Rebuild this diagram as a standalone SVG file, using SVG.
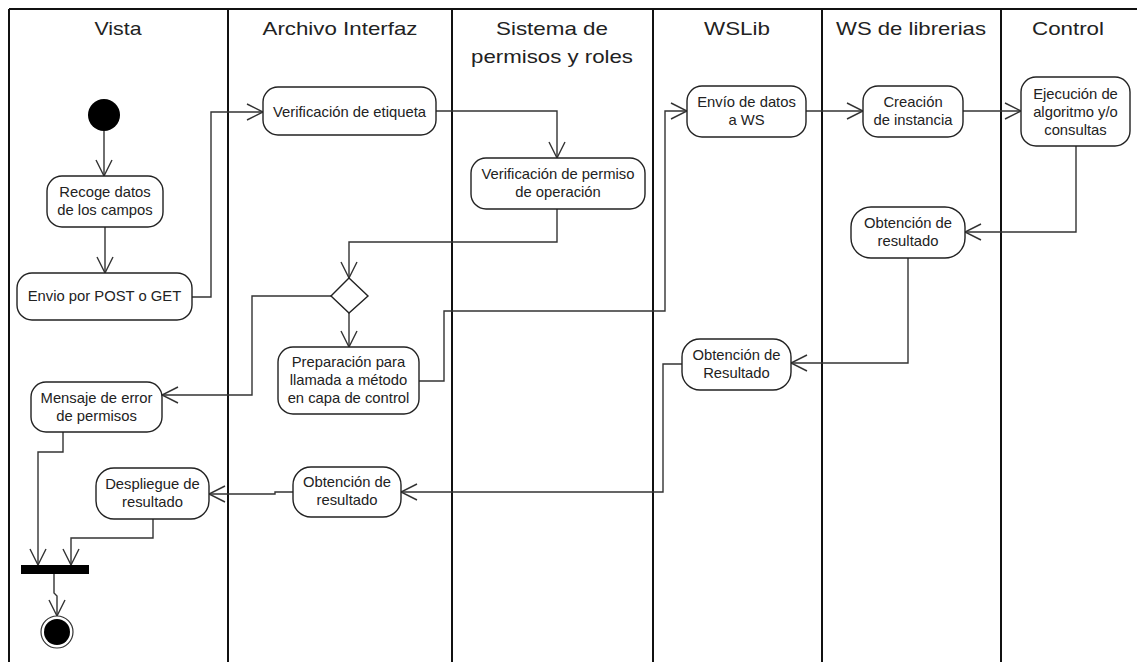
<svg xmlns="http://www.w3.org/2000/svg" width="1137" height="662" viewBox="0 0 1137 662">
  <style>
    .lane { stroke: #111; stroke-width: 2; fill: none; }
    .hdr { font-family: "Liberation Sans", Arial, sans-serif; font-size: 19px; fill: #222; text-anchor: middle; }
    .act { fill: #fff; stroke: #222; stroke-width: 1.4; }
    .lbl { font-family: "Liberation Sans", Arial, sans-serif; font-size: 14.8px; fill: #222; text-anchor: middle; }
    .flow { fill: none; stroke: #333; stroke-width: 1.4; marker-end: url(#open); }
    .plain { fill: none; stroke: #333; stroke-width: 1.4; }
  </style>
  <defs>
    <marker id="open" markerUnits="userSpaceOnUse" markerWidth="20" markerHeight="20" viewBox="-18 -10 20 20" refX="0" refY="0" orient="auto">
      <path d="M-16,-8 L0,0 L-16,8" fill="none" stroke="#333" stroke-width="1.4"/>
    </marker>
  </defs>

  <rect width="1137" height="662" fill="#fff"/>

  <!-- swimlanes -->
  <g id="lanes">
    <line class="lane" x1="9" y1="9" x2="1137" y2="9"/>
    <line class="lane" x1="9" y1="9" x2="9" y2="662"/>
    <line class="lane" x1="228" y1="9" x2="228" y2="662"/>
    <line class="lane" x1="452" y1="9" x2="452" y2="662"/>
    <line class="lane" x1="653" y1="9" x2="653" y2="662"/>
    <line class="lane" x1="822" y1="9" x2="822" y2="662"/>
    <line class="lane" x1="1001" y1="9" x2="1001" y2="662"/>
    <text class="hdr" x="118" y="35" textLength="47" lengthAdjust="spacingAndGlyphs">Vista</text>
    <text class="hdr" x="340" y="35" textLength="155" lengthAdjust="spacingAndGlyphs">Archivo Interfaz</text>
    <text class="hdr" x="552" y="35" textLength="112" lengthAdjust="spacingAndGlyphs">Sistema de</text>
    <text class="hdr" x="552" y="63" textLength="162" lengthAdjust="spacingAndGlyphs">permisos y roles</text>
    <text class="hdr" x="737" y="35" textLength="66" lengthAdjust="spacingAndGlyphs">WSLib</text>
    <text class="hdr" x="911" y="35" textLength="150" lengthAdjust="spacingAndGlyphs">WS de librerias</text>
    <text class="hdr" x="1068" y="35" textLength="72" lengthAdjust="spacingAndGlyphs">Control</text>
  </g>

  <!-- connectors -->
  <g id="connectors">
    <path class="flow" d="M104,131 L104,176"/>
    <path class="flow" d="M105,227 L105,273"/>
    <path class="flow" d="M192,297 L211,297 L211,112 L263,112"/>
    <path class="flow" d="M436,111 L557,111 L557,158"/>
    <path class="flow" d="M557,209 L557,242 L349,242 L349,278"/>
    <path class="flow" d="M331,296 L252,296 L252,395 L162,395"/>
    <path class="flow" d="M349,313 L349,347"/>
    <path class="flow" d="M419,381 L444,381 L444,311 L665,311 L665,111 L687,111"/>
    <path class="flow" d="M806,111 L863,111"/>
    <path class="flow" d="M963,111 L1021,111"/>
    <path class="flow" d="M1076,146 L1076,232 L965,232"/>
    <path class="flow" d="M908,258 L908,363 L791,363"/>
    <path class="flow" d="M682,364 L663,364 L663,492 L401,492"/>
    <path class="flow" d="M293,492 L275,492 L275,494 L209,494"/>
    <path class="flow" d="M63,432 L63,452 L38,452 L38,565"/>
    <path class="flow" d="M153,519 L153,538 L71,538 L71,565"/>
    <path class="flow" d="M54,574 L54,593 L57,596 L57,616"/>
  </g>

  <!-- initial node -->
  <g id="start">
    <circle cx="104" cy="115" r="16" fill="#000"/>
  </g>

  <g id="recoge">
    <rect class="act" x="47" y="176" width="116" height="51" rx="15"/>
    <text class="lbl" x="105" y="197">Recoge datos</text>
    <text class="lbl" x="105" y="215">de los campos</text>
  </g>

  <g id="envio-post">
    <rect class="act" x="17" y="273" width="175" height="47" rx="15"/>
    <text class="lbl" x="104.5" y="301">Envio por POST o GET</text>
  </g>

  <g id="verif-etiqueta">
    <rect class="act" x="263" y="87" width="173" height="48" rx="15"/>
    <text class="lbl" x="349.5" y="117">Verificación de etiqueta</text>
  </g>

  <g id="verif-permiso">
    <rect class="act" x="471" y="158" width="174" height="51" rx="15"/>
    <text class="lbl" x="558" y="179">Verificación de permiso</text>
    <text class="lbl" x="558" y="197">de operación</text>
  </g>

  <g id="decision">
    <polygon class="act" points="349,278 368,296 349,313 331,296"/>
  </g>

  <g id="preparacion">
    <rect class="act" x="278" y="347" width="141" height="67" rx="15"/>
    <text class="lbl" x="348.5" y="367">Preparación para</text>
    <text class="lbl" x="348.5" y="385">llamada a método</text>
    <text class="lbl" x="348.5" y="403">en capa de control</text>
  </g>

  <g id="mensaje-error">
    <rect class="act" x="31" y="382" width="131" height="50" rx="15"/>
    <text class="lbl" x="96.5" y="403">Mensaje de error</text>
    <text class="lbl" x="96.5" y="421">de permisos</text>
  </g>

  <g id="envio-ws">
    <rect class="act" x="687" y="86" width="119" height="51" rx="15"/>
    <text class="lbl" x="746.5" y="107">Envío de datos</text>
    <text class="lbl" x="746.5" y="125">a WS</text>
  </g>

  <g id="creacion">
    <rect class="act" x="863" y="86" width="100" height="51" rx="15"/>
    <text class="lbl" x="913" y="107">Creación</text>
    <text class="lbl" x="913" y="125">de instancia</text>
  </g>

  <g id="ejecucion">
    <rect class="act" x="1021" y="77" width="109" height="69" rx="15"/>
    <text class="lbl" x="1075.5" y="99">Ejecución de</text>
    <text class="lbl" x="1075.5" y="117">algoritmo y/o</text>
    <text class="lbl" x="1075.5" y="135">consultas</text>
  </g>

  <g id="obtencion-wslibrerias">
    <rect class="act" x="851" y="207" width="114" height="51" rx="20"/>
    <text class="lbl" x="908" y="228">Obtención de</text>
    <text class="lbl" x="908" y="246">resultado</text>
  </g>

  <g id="obtencion-wslib">
    <rect class="act" x="682" y="339" width="109" height="51" rx="18"/>
    <text class="lbl" x="736.5" y="360">Obtención de</text>
    <text class="lbl" x="736.5" y="378">Resultado</text>
  </g>

  <g id="obtencion-interfaz">
    <rect class="act" x="293" y="467" width="108" height="50" rx="18"/>
    <text class="lbl" x="347" y="487">Obtención de</text>
    <text class="lbl" x="347" y="505">resultado</text>
  </g>

  <g id="despliegue">
    <rect class="act" x="96" y="468" width="113" height="51" rx="18"/>
    <text class="lbl" x="152.5" y="489">Despliegue de</text>
    <text class="lbl" x="152.5" y="507">resultado</text>
  </g>

  <g id="join">
    <rect x="21" y="565" width="68" height="9" fill="#000"/>
  </g>

  <g id="final">
    <circle cx="57" cy="632" r="16" fill="#fff" stroke="#333" stroke-width="1.2"/>
    <circle cx="57" cy="632" r="13" fill="#000"/>
  </g>
</svg>
